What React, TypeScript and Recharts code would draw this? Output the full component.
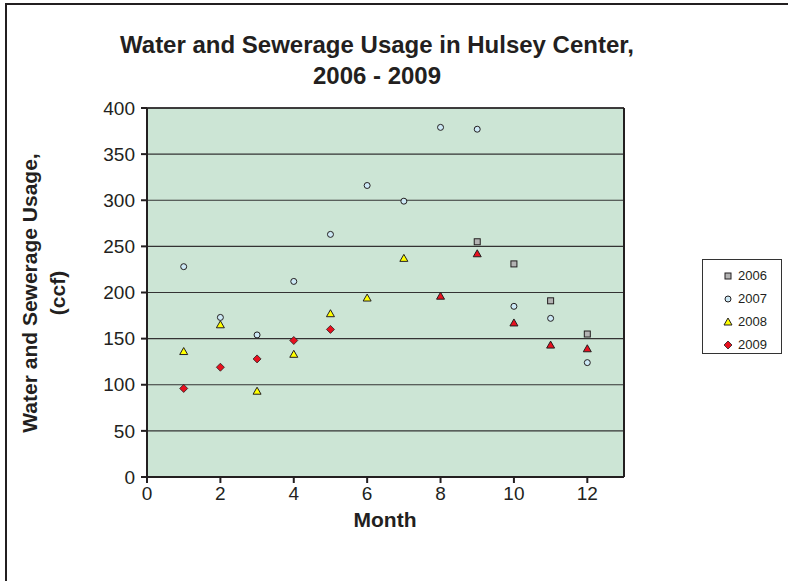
import { CartesianGrid, ReferenceLine, Scatter, ScatterChart, XAxis, YAxis } from 'recharts'

const months = [1, 2, 3, 4, 5, 6, 7, 8, 9, 10, 11, 12]
const months2006 = [9, 10, 11, 12]
const months2009 = [1, 2, 3, 4, 5]

const usage2006 = [255, 231, 191, 155]
const usage2007 = [228, 173, 154, 212, 263, 316, 299, 379, 377, 185, 172, 124]
const usage2008 = [136, 165, 93, 133, 177, 194, 237, 196, 242, 167, 143, 139]
const usage2009 = [96, 119, 128, 148, 160]

const seriesNames = ['2006', '2007', '2008', '2009']

const xTicks = [0, 2, 4, 6, 8, 10, 12]
const yTicks = [0, 50, 100, 150, 200, 250, 300, 350, 400]

const FONT = '"Liberation Sans", Arial, sans-serif'
const INK = '#231f20'
const PLOT_BG = '#cce5d5'

const toPoints = (xs: number[], ys: number[]) => xs.map((month, i) => ({ month, usage: ys[i] }))

type MarkerProps = { cx?: number; cy?: number; payload?: { month: number } }

function SquareMarker({ cx = 0, cy = 0 }: MarkerProps) {
  return <rect x={cx - 3} y={cy - 3} width={6} height={6} fill="#b3b3b3" stroke={INK} strokeWidth={1} />
}

function CircleMarker({ cx = 0, cy = 0 }: MarkerProps) {
  return <circle cx={cx} cy={cy} r={3} fill="#cde9f6" stroke={INK} strokeWidth={1} />
}

// late-2008 points were coloured red in the original workbook
function TriangleMarker({ cx = 0, cy = 0, payload }: MarkerProps) {
  const fill = payload && payload.month >= 8 ? '#e8101e' : '#ffff00'
  return <path d={`M${cx},${cy - 4}L${cx + 4},${cy + 3}L${cx - 4},${cy + 3}Z`} fill={fill} stroke={INK} strokeWidth={1} />
}

function DiamondMarker({ cx = 0, cy = 0 }: MarkerProps) {
  return <path d={`M${cx},${cy - 4}L${cx + 4},${cy}L${cx},${cy + 4}L${cx - 4},${cy}Z`} fill="#e8101e" stroke={INK} strokeWidth={0.8} />
}

const legendShapes: Record<string, (p: MarkerProps) => JSX.Element> = {
  '2006': SquareMarker,
  '2007': CircleMarker,
  '2008': TriangleMarker,
  '2009': DiamondMarker,
}

function LegendBox() {
  return (
    <div
      style={{
        position: 'absolute',
        left: 702,
        top: 259,
        width: 80,
        height: 95,
        border: '1px solid #333',
        background: '#fff',
        boxSizing: 'border-box',
        paddingTop: 4,
      }}
    >
      {seriesNames.map((name) => {
        const Shape = legendShapes[name]
        return (
          <div key={name} style={{ display: 'flex', alignItems: 'center', height: 23, fontFamily: FONT, fontSize: 13, color: INK }}>
            <svg width={35} height={14} style={{ flex: 'none' }}>
              <Shape cx={25} cy={7} payload={{ month: 1 }} />
            </svg>
            <span>{name}</span>
          </div>
        )
      })}
    </div>
  )
}

export default function App() {
  return (
    <div style={{ position: 'absolute', left: 0, top: 0, width: 788, height: 581, overflow: 'hidden', background: '#fff' }}>
      <div style={{ position: 'absolute', left: 5, top: 3, width: 900, height: 700, borderLeft: `2px solid ${INK}`, borderTop: `2px solid ${INK}` }} />

      <div style={{ position: 'absolute', left: 77, width: 600, top: 29, textAlign: 'center', fontFamily: FONT, fontWeight: 700, fontSize: 24, lineHeight: '31px', color: INK }}>
        Water and Sewerage Usage in Hulsey Center,
        <br />
        2006 - 2009
      </div>

      <div
        style={{
          position: 'absolute',
          left: 44,
          top: 293,
          width: 400,
          transform: 'translate(-50%, -50%) rotate(-90deg)',
          textAlign: 'center',
          fontFamily: FONT,
          fontWeight: 700,
          fontSize: 21,
          lineHeight: '28px',
          color: INK,
        }}
      >
        Water and Sewerage Usage,
        <br />
        (ccf)
      </div>

      <div style={{ position: 'absolute', left: 285, width: 200, top: 508, textAlign: 'center', fontFamily: FONT, fontWeight: 700, fontSize: 21, color: INK }}>
        Month
      </div>

      <ScatterChart width={788} height={581} margin={{ top: 108, right: 164, bottom: 44, left: 87 }} style={{ position: 'absolute', left: 0, top: 0 }}>
        <CartesianGrid fill={PLOT_BG} fillOpacity={1} vertical={false} stroke="#333" strokeWidth={1.2} />
        <XAxis
          type="number"
          dataKey="month"
          domain={[0, 13]}
          ticks={xTicks}
          allowDataOverflow
          height={60}
          tickSize={6}
          tickMargin={4}
          stroke={INK}
          strokeWidth={2}
          tick={{ fill: INK, fontFamily: FONT, fontSize: 19 }}
        />
        <YAxis
          type="number"
          dataKey="usage"
          domain={[0, 400]}
          ticks={yTicks}
          width={60}
          tickSize={6}
          tickMargin={6}
          stroke={INK}
          strokeWidth={2}
          tick={{ fill: INK, fontFamily: FONT, fontSize: 19 }}
        />
        <ReferenceLine x={13} stroke={INK} strokeWidth={2} />
        <ReferenceLine y={400} stroke={INK} strokeWidth={1.5} />
        <Scatter name="2006" data={toPoints(months2006, usage2006)} shape={SquareMarker} isAnimationActive={false} />
        <Scatter name="2007" data={toPoints(months, usage2007)} shape={CircleMarker} isAnimationActive={false} />
        <Scatter name="2008" data={toPoints(months, usage2008)} shape={TriangleMarker} isAnimationActive={false} />
        <Scatter name="2009" data={toPoints(months2009, usage2009)} shape={DiamondMarker} isAnimationActive={false} />
      </ScatterChart>

      <LegendBox />
    </div>
  )
}
